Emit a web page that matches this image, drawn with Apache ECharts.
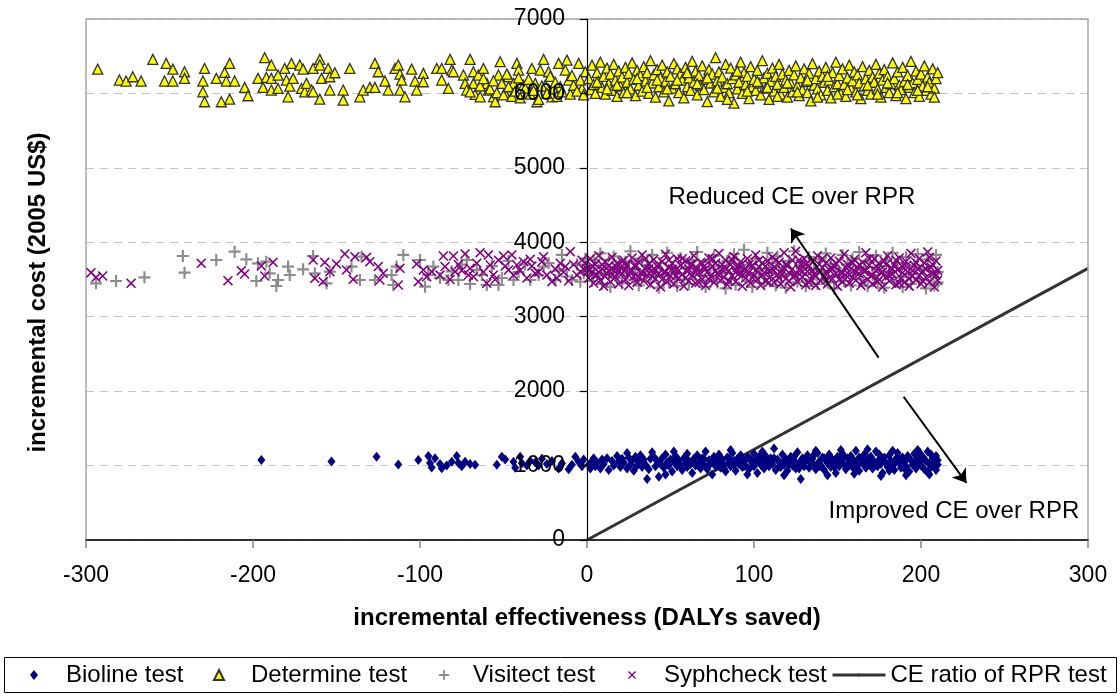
<!DOCTYPE html>
<html>
<head>
<meta charset="utf-8">
<script src="https://cdn.jsdelivr.net/npm/echarts@6/dist/echarts.min.js"></script>
<style>
html,body{margin:0;padding:0;background:#fff;}
#chart{width:1120px;height:696px;}
</style>
</head>
<body>
<div id="chart"></div>
<script>
// ---------- DATA ----------
const xTicks = [-300, -200, -100, 0, 100, 200, 300];
const yTicks = [0, 1000, 2000, 3000, 4000, 5000, 6000, 7000];

const bioline = [
[-195,1075],[-153,1055],[-126,1120],[-113,1015],[-101,1075],[-95,1130],[-94,1035],[-93,975],[-91,1100],[-88,1020],[-87,965],[-84,1000],[-81,1050],[-78,1130],[-77,1035],[-75,990],[-73,1050],[-70,1020],[-67,1010],[-54,1010],[-51,1120],[-49,1080],[-44,1050],[-43,970],[-40,1120],[-39,1030],[-36,1000],[-34,1060],[-31,1040],[-29,1000],[-27,1090],[-24,1020],[-21,1060],[-17,960],[-15,1030],[-11,950],[-9,1010],[-7,1120],[-5,1050],[-3,990],[-2,1080],
[1,1010],[2,960],[3,1060],[4,1100],[5,990],[6,1040],[8,960],[9,1080],[10,1020],[12,1100],[13,940],[15,1060],[16,1000],[18,1130],[19,1050],[20,980],[21,1090],[22,1040],[24,1170],[24,960],[25,1110],[26,1010],[27,1060],[28,930],[29,1120],[30,1000],[31,1050],[32,1140],[33,980],[34,1080],
[35,1010],[36,820],[37,950],[38,1090],[39,1180],[40,1120],[41,990],[42,1060],[43,850],[44,1020],[45,1100],[46,970],[47,1150],[48,1040],[49,1000],[50,1080],[51,920],[52,1050],[53,1130],[54,990],[55,1070],[56,1010],[57,940],[58,1100],[59,1030],[60,1160],[60,980],[61,1060],[62,1020],[63,900],[64,1090],[65,1000],[66,1140],[67,1040],[68,960],
[69,1100],[70,1010],[71,1190],[72,950],[73,1070],[74,1030],[75,880],[76,1120],[77,990],[78,1050],[79,1150],[80,970],[81,1080],[82,1010],[83,920],[84,1110],[85,1040],[86,990],[87,1170],[88,1060],[89,930],[90,1090],[91,1020],[92,1140],[93,980],[94,1060],[95,1000],[96,1110],[97,950],[98,1080],[99,1030],[100,1160],[100,990],[101,1050],[102,900],[103,1120],[104,1010],[105,1070],[106,960],[107,1130],[108,1040],[109,990],[110,1100],
[111,1020],[112,1230],[113,940],[114,1080],[115,1050],[116,980],[117,1150],[118,1010],[119,1090],[120,930],[121,1060],[122,1120],[123,1000],[124,1070],[125,960],[126,1180],[127,1030],[128,820],[129,1100],[130,990],[131,1060],[132,1140],[133,970],[134,1040],[135,1090],[136,1010],[137,950],[138,1170],[139,1050],[140,1000],[141,1110],[142,940],[143,1070],[144,1030],[145,1150],[146,980],[147,1080],[148,1020],[149,900],[150,1120],[150,1050],
[151,990],[152,1070],[153,1160],[154,1010],[155,950],[156,1100],[157,1040],[158,1130],[159,980],[160,1060],[161,1200],[162,1000],[163,930],[164,1090],[165,1030],[166,1150],[167,970],[168,1070],[169,1010],[170,1120],[171,960],[172,1050],[173,1190],[174,990],[175,1080],[176,1020],[177,900],[178,1110],[179,1040],[180,980],[181,1140],[182,1060],[183,1000],[184,940],[185,1090],[186,1170],[187,1030],[188,970],[189,1110],[190,1050],[191,990],[192,1130],[193,920],[194,1070],[195,1010],[196,1160],[197,960],[198,1090],[199,1040],[200,1000],[201,1120],[202,950],[203,1060],[204,1190],[205,1020],[206,980],[207,1100],[208,1050],[209,940],[209,1130],[210,1010],[210,1070],
[208,990],[206,1150],[204,910],[202,1080],[199,1180],[196,1030],[193,1100],[190,960],[187,1090],[184,1020],[181,930],[178,1060],[175,1150],[172,990],[169,1100],[166,1040],[163,1110],[160,960],[157,1000],[154,1120],[151,1060],[148,980],[145,1040],[142,1100],[139,990],[136,1150],[133,1060],[130,1030],[127,960],[124,1120],[121,1010],[118,1060],[115,990],[112,1100],[109,1050],[106,1010],[103,1060],[100,1040],[97,1100],[94,990],[91,1060],[88,1010],[85,1090],[82,960],[79,1030],[76,1070],[73,1000],[70,1090],
[205,880],[198,1210],[191,870],[183,1200],[176,860],[168,1220],[160,890],[152,1210],[144,870],[137,1200],[118,870],[105,1190],[96,880],[86,1210],[52,1190],[47,880]
];

const determine = [
[-293,6327],[-280,6180],[-276,6166],[-272,6224],[-267,6166],[-260,6457],[-253,6166],[-252,6404],[-248,6327],[-248,6166],[-241,6291],[-241,6202],[-229,6336],[-230,6166],[-230,6022],[-229,5888],[-222,6202],[-219,5888],[-217,6283],[-216,6166],[-214,6404],[-214,5924],[-211,6166],[-205,6081],[-203,5969],[-197,6202],[-194,6081],[-193,6480],[-192,6215],[-189,6202],[-189,6045],[-189,6381],[-185,6067],[-185,6247],[-181,6336],[-180,6180],[-179,5955],[-178,6099],[-177,6404],[-176,6202],[-172,6381],[-171,6067],[-170,6327],[-169,6022],[-168,6135],[-165,6045],[-164,6336],[-164,6022],[-160,6457],[-160,6381],[-159,6202],[-160,5924],[-154,6045],[-155,6336],[-154,6224],[-151,6278],[-146,6045],[-146,5910],[-142,6336],[-136,5955],[-134,6045],[-130,6081],[-127,6081],[-127,6404],[-125,6291],[-121,6166],[-119,6045],[-115,6336],[-113,6381],[-112,6260],[-111,6180],[-112,6045],[-109,5955],[-105,6327],[-103,6166],[-102,6045],[-98,6269],[-98,6157],[-90,6336],[-87,6180],[-87,6336],[-83,6067],[-82,6457],[-81,6314],[-80,6291],[-74,6247],[-73,6135],[-72,6045],[-70,6457],[-68,6291],[-68,6135],[-67,5987],[-65,6247],[-64,5955],[-62,6336],[-60,6135],[-59,6045],[-56,5955],[-55,5888],[-53,6247],[-52,6426],[-51,6135],[-49,6000],[-47,6224],[-44,6135],[-42,6404],[-41,6314],[-38,6112],[-36,6000],[-33,6336],[-31,6135],[-30,5888],[-28,6314],[-26,6457],[-25,6112],[-23,6291],[-21,5955],[-17,6404],[-16,6090],[-13,6314],[-12,6448],[-11,6180],[-7,6067],[-5,6404],[-3,6067],[-1,6291],
[-58,6060],[-54,6010],[-50,5980],[-47,6090],[-45,5960],[-43,6030],[-40,5940],[-37,6070],[-34,5990],[-32,6040],[-29,5920],[-27,6100],[-24,6000],[-20,6060],[-18,5960],[-15,6020],[-10,5990],[-8,6110],[-6,6030],[-2,5980],[-64,6100],[-70,6020],[-62,6200],[-56,6170],[-48,6260],[-41,6210],[-35,6190],[-22,6230],[-19,6150],[-9,6240],[-4,6180],
[1,6200],[2,6050],[3,6380],[4,6120],[5,6000],[6,6280],[7,6160],[8,6420],[9,6080],[10,6230],[11,5990],[12,6340],[13,6130],[14,6260],[15,6040],[16,6390],[17,6180],[18,5960],[19,6300],[20,6100],[21,6220],[22,6010],[23,6350],[24,6150],[25,6270],[26,6060],[27,6410],[28,6190],[29,5970],[30,6310],[31,6110],[32,6240],[33,6030],[34,6360],[35,6170],[36,6280],[37,6000],[38,6440],[39,6140],[40,6250],[41,5950],[42,6320],[43,6090],[44,6210],[45,6380],[46,6020],[47,6160],[48,6290],[49,5900],[50,6230],[51,6070],[52,6400],[53,6130],[54,6330],[55,6010],[56,6260],[57,6180],[58,5940],[59,6350],[60,6090],[61,6210],[62,6040],[63,6430],[64,6150],[65,6300],[66,5980],[67,6240],[68,6110],[69,6370],[70,6050],[71,6190],[72,5890],[73,6320],[74,6140],[75,6260],[76,6020],[77,6480],[78,6170],[79,6290],[80,5960],[81,6220],[82,6080],[83,6390],[84,6130],[85,6010],[86,6340],[87,6200],[88,5870],[89,6250],[90,6060],[91,6150],[92,6420],[93,6000],[94,6280],[95,6120],[96,6230],[97,5930],[98,6360],[99,6090],[100,6190],[101,6040],[102,6310],[103,6140],[104,5980],[105,6440],[106,6210],[107,6070],[108,6270],[109,5920],[110,6160],[111,6340],[112,6030],[113,6230],[114,6120],[115,6390],[116,5990],[117,6260],[118,6080],[119,6180],[120,5950],[121,6310],[122,6140],[123,6020],[124,6250],[125,6370],[126,6100],[127,5970],[128,6210],[129,6050],[130,6330],[131,6160],[132,6010],[133,6270],[134,5900],[135,6400],[136,6110],[137,6200],[138,6060],[139,6300],[140,5980],[141,6230],[142,6150],[143,6350],[144,6040],[145,6180],[146,5940],[147,6280],[148,6090],[149,6420],[150,6130],[151,6240],[152,6000],[153,6330],[154,6120],[155,5960],[156,6210],[157,6380],[158,6070],[159,6170],[160,6290],[161,6020],[162,6250],[163,6140],[164,5930],[165,6360],[166,6100],[167,6200],[168,6040],[169,6310],[170,5990],[171,6220],[172,6150],[173,6390],[174,6060],[175,6270],[176,5950],[177,6180],[178,6320],[179,6080],[180,6230],[181,6010],[182,6130],[183,6410],[184,6200],[185,5970],[186,6290],[187,6110],[188,6050],[189,6350],[190,6160],[191,5930],[192,6240],[193,6080],[194,6430],[195,6140],[196,6010],[197,6300],[198,6190],[199,5960],[200,6260],[201,6100],[202,6370],[203,6040],[204,6220],[205,6150],[206,5990],[207,6330],[208,6070],[209,6200],[210,6280],
[208,5950],[204,6090],[198,6040],[192,6120],[186,6010],[180,6140],[174,5990],[168,6110],[162,5980],[156,6050],[150,5990],[144,6230],[138,5950],[132,6180],[126,6020],[120,6140],[114,5960],[108,6080],[102,6160],[96,6030],[90,6300],[84,5920],[78,6070],[72,6210],[66,6130],[60,6280],[54,6180],[48,6060],[42,6180],[36,6080],[30,6200],[24,6010],[18,6110],[12,6060],[6,6150]
];

const visitect = [
[-294,3448],[-282,3480],[-265,3529],[-242,3816],[-241,3592],[-222,3762],[-211,3874],[-204,3771],[-198,3480],[-197,3717],[-192,3740],[-190,3583],[-186,3413],[-185,3493],[-179,3673],[-178,3561],[-170,3637],[-164,3816],[-163,3583],[-156,3448],[-154,3605],[-141,3673],[-136,3493],[-135,3807],[-127,3493],[-117,3561],[-116,3426],[-114,3673],[-110,3830],[-100,3762],[-97,3404],[-95,3561],[-92,3673],[-83,3493],[-77,3493],[-72,3762],[-66,3628],[-60,3426],[-53,3426],[-44,3493],[-34,3493],[-26,3673],[-19,3493],[-15,3830],[-9,3493],[-2,3583],
[-88,3520],[-81,3610],[-75,3700],[-70,3440],[-63,3560],[-57,3680],[-51,3520],[-47,3750],[-41,3600],[-37,3700],[-29,3560],[-23,3720],[-17,3620],[-12,3540],[-6,3700],[-4,3470],[-1,3780],
[1,3620],[3,3480],[4,3760],[6,3550],[8,3850],[9,3440],[11,3700],[13,3590],[14,3400],[16,3810],[18,3520],[19,3660],[21,3450],[23,3740],[24,3580],[26,3880],[28,3500],[29,3640],[31,3420],[33,3780],[34,3560],[36,3690],[38,3470],[39,3830],[41,3610],[43,3390],[44,3720],[46,3540],[48,3860],[49,3460],[51,3670],[53,3580],[54,3410],[56,3790],[58,3500],[59,3650],[61,3440],[63,3760],[64,3570],[66,3870],[68,3490],[69,3620],[71,3400],[73,3730],[74,3550],[76,3820],[78,3460],[79,3680],[81,3590],[83,3380],[84,3750],[86,3510],[88,3840],[89,3430],[91,3660],[93,3570],[94,3900],[96,3480],[98,3700],[99,3400],[101,3780],[103,3540],[104,3640],[106,3450],[108,3860],[109,3590],[111,3720],[113,3420],[114,3810],[116,3530],[118,3670],[119,3390],[121,3750],[123,3580],[124,3880],[126,3470],[128,3690],[129,3560],[131,3410],[133,3800],[134,3500],[136,3630],[138,3440],[139,3770],[141,3600],[143,3850],[144,3460],[146,3710],[148,3380],[149,3650],[151,3540],[153,3830],[154,3480],[156,3700],[158,3420],[159,3780],[161,3590],[163,3870],[164,3500],[166,3660],[168,3410],[169,3740],[171,3560],[173,3820],[174,3450],[176,3680],[178,3390],[179,3760],[181,3610],[183,3860],[184,3470],[186,3720],[188,3530],[189,3400],[191,3800],[193,3580],[194,3440],[196,3690],[198,3840],[199,3490],[201,3640],[203,3380],[204,3770],[206,3550],[208,3420],[209,3830],[210,3600],[210,3460]
];

const syphcheck = [
[-297,3592],[-294,3529],[-290,3547],[-273,3448],[-231,3717],[-215,3484],[-207,3619],[-205,3574],[-195,3682],[-193,3547],[-188,3731],[-164,3762],[-163,3516],[-158,3471],[-157,3731],[-154,3605],[-150,3709],[-145,3843],[-144,3628],[-139,3807],[-140,3502],[-132,3798],[-130,3740],[-125,3673],[-124,3493],[-122,3583],[-113,3426],[-112,3650],[-102,3709],[-101,3471],[-98,3628],[-96,3538],[-93,3605],[-86,3816],[-85,3673],[-80,3816],[-79,3605],[-73,3843],[-70,3650],[-68,3538],[-64,3861],[-60,3448],[-59,3830],[-58,3695],[-56,3561],[-50,3816],[-47,3628],[-45,3830],[-42,3695],[-38,3740],[-34,3771],[-31,3583],[-26,3807],[-21,3471],[-16,3717],[-13,3673],[-10,3874],[-4,3605],[-1,3717],
[-88,3560],[-82,3500],[-77,3700],[-75,3620],[-71,3560],[-66,3720],[-62,3600],[-55,3500],[-53,3760],[-49,3680],[-44,3560],[-40,3620],[-36,3520],[-33,3680],[-29,3600],[-27,3740],[-24,3560],[-19,3640],[-18,3520],[-14,3600],[-11,3480],[-8,3700],[-6,3560],[-3,3760],[-2,3640],
[0,3650],[1,3520],[2,3780],[3,3600],[4,3450],[5,3700],[6,3560],[7,3820],[8,3490],[9,3640],[10,3410],[11,3740],[12,3580],[13,3680],[14,3470],[15,3800],[16,3620],[17,3530],[18,3720],[19,3440],[20,3660],[21,3580],[22,3760],[23,3500],[24,3690],[25,3420],[26,3610],[27,3790],[28,3540],[29,3670],[30,3460],[31,3730],[32,3590],[33,3830],[34,3480],[35,3640],[36,3560],[37,3710],[38,3430],[39,3620],[40,3770],[41,3510],[42,3680],[43,3580],[44,3400],[45,3740],[46,3600],[47,3840],[48,3470],[49,3660],[50,3550],[51,3720],[52,3440],[53,3630],[54,3780],[55,3520],[56,3690],[57,3570],[58,3410],[59,3750],[60,3610],[61,3480],[62,3700],[63,3560],[64,3820],[65,3450],[66,3650],[67,3590],[68,3730],[69,3500],[70,3670],[71,3420],[72,3600],[73,3790],[74,3540],[75,3680],[76,3460],[77,3720],[78,3580],[79,3850],[80,3490],[81,3640],[82,3530],[83,3760],[84,3430],[85,3620],[86,3700],[87,3550],[88,3810],[89,3470],[90,3660],[91,3580],[92,3740],[93,3410],[94,3630],[95,3520],[96,3780],[97,3600],[98,3450],[99,3690],[100,3560],[101,3830],[102,3500],[103,3670],[104,3420],[105,3720],[106,3590],[107,3480],[108,3750],[109,3610],[110,3540],[111,3800],[112,3460],[113,3650],[114,3570],[115,3730],[116,3440],[117,3620],[118,3860],[119,3510],[120,3690],[121,3590],[122,3400],[123,3760],[124,3550],[125,3880],[126,3470],[127,3640],[128,3700],[129,3530],[130,3780],[131,3430],[132,3610],[133,3680],[134,3500],[135,3740],[136,3570],[137,3420],[138,3820],[139,3600],[140,3480],[141,3660],[142,3550],[143,3720],[144,3440],[145,3630],[146,3790],[147,3510],[148,3680],[149,3580],[150,3410],[151,3750],[152,3600],[153,3470],[154,3840],[155,3560],[156,3700],[157,3450],[158,3640],[159,3530],[160,3770],[161,3490],[162,3660],[163,3580],[164,3420],[165,3730],[166,3610],[167,3860],[168,3500],[169,3690],[170,3550],[171,3440],[172,3780],[173,3620],[174,3470],[175,3710],[176,3590],[177,3400],[178,3750],[179,3530],[180,3820],[181,3480],[182,3650],[183,3570],[184,3700],[185,3430],[186,3630],[187,3790],[188,3520],[189,3670],[190,3460],[191,3740],[192,3600],[193,3410],[194,3850],[195,3550],[196,3690],[197,3490],[198,3640],[199,3780],[200,3440],[201,3610],[202,3720],[203,3530],[204,3870],[205,3460],[206,3660],[207,3580],[208,3400],[209,3750],[210,3620],[210,3490],
[209,3560],[207,3700],[205,3800],[203,3640],[201,3480],[199,3560],[197,3730],[195,3620],[193,3510],[191,3680],[189,3590],[187,3450],[185,3760],[183,3640],[181,3550],[179,3700],[177,3600],[175,3500],[173,3680],[171,3560],[169,3780],[167,3620],[165,3470],[163,3700],[161,3600],[159,3720],[157,3560],[155,3660],[153,3590],[151,3500],[149,3720],[147,3640],[145,3520],[143,3600],[141,3780],[139,3700],[137,3540],[135,3620],[133,3460],[131,3700],[129,3610],[127,3760],[125,3560],[123,3640],[121,3480],[119,3700],[117,3580],[115,3520],[113,3760],[111,3640],[109,3460],[107,3680],[105,3560],[103,3760],[101,3620],[99,3520],[97,3700],[95,3640],[93,3560],[91,3680],[89,3600],[87,3760],[85,3480],[83,3640],[81,3700],[79,3560],[77,3620],[75,3780],[73,3500],[71,3640],[69,3720],[67,3460],[65,3600],[63,3700],[61,3640],[59,3520],[57,3780],[55,3620],[53,3540],[51,3640],[49,3760],[47,3600],[45,3500],[43,3700],[41,3620],[39,3540],[37,3640],[35,3780],[33,3600],[31,3520],[29,3700],[27,3620],[25,3560],[23,3640],[21,3740],[19,3600],[17,3680],[15,3560],[13,3620],[11,3540],[9,3700],[7,3600],[5,3560],[3,3680],[1,3620]
];

const ceRatio = [[0, 0], [300, 3650]];

const seriesNames = ['Bioline test', 'Determine test', 'Visitect test', 'Syphcheck test', 'CE ratio of RPR test'];

const annotations = [[122.7, 4603, 'Reduced CE over RPR'], [219.7, 390, 'Improved CE over RPR']];
const arrows = [
  [[174.6, 2450], [122.1, 4186]],
  [[189.6, 1925], [227.2, 767]]
];

// ---------- CHART ----------
const FONT = "'Liberation Sans', Arial, Helvetica, sans-serif";
const chart = echarts.init(document.getElementById('chart'), null, {renderer: 'canvas'});

const PLUS = 'path://M4.1,0H5.9V4.1H10V5.9H5.9V10H4.1V5.9H0V4.1H4.1Z';
const CROSS = 'path://M0,1.1L1.1,0L5,3.9L8.9,0L10,1.1L6.1,5L10,8.9L8.9,10L5,6.1L1.1,10L0,8.9L3.9,5Z';

const GRID_LEFT = 86, GRID_RIGHT = 32;
const PLOT_W = 1120 - GRID_LEFT - GRID_RIGHT;
const xMin = xTicks[0], xMax = xTicks[xTicks.length - 1];
const yMin = yTicks[0], yMax = yTicks[yTicks.length - 1];
// move the y axis (line, ticks, labels, name) to x = 0
const yAxisOffset = -PLOT_W * (0 - xMin) / (xMax - xMin);

function legendFor(name, left, w, h, pad, icon) {
  return {
    data: [icon ? {name: name, icon: icon} : name], left: left, top: 661, orient: 'horizontal',
    itemWidth: w, itemHeight: h, padding: 0, itemGap: 0,
    selectedMode: false,
    lineStyle: {width: 3, color: '#333'},
    textStyle: {fontFamily: FONT, fontSize: 24, color: '#000', lineHeight: 28, padding: [0, 0, 0, pad]}
  };
}

const option = {
  animation: false,
  backgroundColor: '#fff',
  grid: {left: GRID_LEFT, right: GRID_RIGHT, top: 19, bottom: 156, show: true, borderColor: '#a6a6a6', borderWidth: 1.5, backgroundColor: 'transparent',
         containLabel: false, outerBoundsMode: 'none', z: 2},
  xAxis: {
    type: 'value', min: xMin, max: xMax, interval: 100, z: 3,
    axisLine: {onZero: true, lineStyle: {color: '#000', width: 1.5}},
    axisTick: {show: true, length: 8, lineStyle: {color: '#888', width: 1.5}},
    axisLabel: {fontFamily: FONT, fontSize: 23, color: '#000', margin: 24, formatter: v => String(v)},
    splitLine: {show: false},
    name: 'incremental effectiveness (DALYs saved)', nameLocation: 'middle', nameGap: 66,
    nameTextStyle: {fontFamily: FONT, fontSize: 24, fontWeight: 'bold', color: '#000'}
  },
  yAxis: [
    {
      type: 'value', min: yMin, max: yMax, interval: 1000, z: 5,
      position: 'left', offset: yAxisOffset,
      axisLine: {onZero: false, lineStyle: {color: '#000', width: 1.2}},
      axisTick: {show: true, length: 7, lineStyle: {color: '#000', width: 1.2}},
      axisLabel: {fontFamily: FONT, fontSize: 23, color: '#000', margin: 22, formatter: v => String(v)},
      splitLine: {show: false},
      name: 'incremental cost (2005 US$)', nameLocation: 'middle', nameGap: 537,
      nameTextStyle: {fontFamily: FONT, fontSize: 24, fontWeight: 'bold', color: '#000', padding: [0, 26, 0, 0]}
    },
    {
      // gridlines only (drawn beneath the plot frame)
      type: 'value', min: yMin, max: yMax, interval: 1000, z: 0, position: 'right',
      axisLine: {show: false}, axisTick: {show: false}, axisLabel: {show: false},
      splitLine: {show: true, lineStyle: {color: '#c4c4c4', type: [8, 6], width: 1}}
    }
  ],
  legend: [
    legendFor(seriesNames[0], 30, 8, 10, 23),
    legendFor(seriesNames[1], 213, 10, 10, 22),
    legendFor(seriesNames[2], 439, 10, 10, 19),
    legendFor(seriesNames[3], 628, 8, 8, 23, CROSS),
    legendFor(seriesNames[4], 831, 53, 4, 0)
  ],
  graphic: [{
    type: 'rect', left: 4, top: 657, silent: true, z: -1,
    shape: {width: 1112, height: 35},
    style: {fill: '#fff', stroke: '#000', lineWidth: 1}
  }],
  series: [
    {
      name: seriesNames[4], type: 'line', data: ceRatio, z: 1, symbol: 'none', showSymbol: false,
      lineStyle: {color: '#333', width: 3}, itemStyle: {color: '#333'}, silent: true
    },
    {
      name: seriesNames[0], type: 'scatter', data: bioline, z: 2, symbol: 'diamond', symbolSize: [8, 10],
      itemStyle: {color: '#000080', opacity: 1}, silent: true
    },
    {
      name: seriesNames[1], type: 'scatter', data: determine, z: 2, symbol: 'triangle', symbolSize: 10,
      itemStyle: {color: '#ffff00', borderColor: '#333', borderWidth: 1.3, opacity: 1}, silent: true
    },
    {
      name: seriesNames[2], type: 'scatter', data: visitect, z: 2, symbol: PLUS, symbolSize: 12, symbolKeepAspect: true,
      itemStyle: {color: '#8c8c8c', opacity: 1}, silent: true
    },
    {
      name: seriesNames[3], type: 'scatter', data: syphcheck, z: 2, symbol: CROSS, symbolSize: 10, symbolKeepAspect: true,
      itemStyle: {color: '#800080', opacity: 1}, silent: true
    },
    {
      name: 'annotations', type: 'scatter', data: annotations, z: 6, symbolSize: 0,
      itemStyle: {color: '#000'}, silent: true,
      label: {show: true, position: 'inside', formatter: p => p.value[2], fontFamily: FONT, fontSize: 24, color: '#000', textBorderWidth: 0, opacity: 1},
      markLine: {
        silent: true, symbol: ['none', 'arrow'], symbolSize: 13, animation: false, precision: 2,
        lineStyle: {color: '#000', width: 2, type: 'solid', opacity: 1},
        itemStyle: {color: '#000'},
        label: {show: false},
        data: arrows.map(a => [{coord: a[0]}, {coord: a[1]}])
      }
    }
  ]
};
chart.setOption(option);
</script>
</body>
</html>
